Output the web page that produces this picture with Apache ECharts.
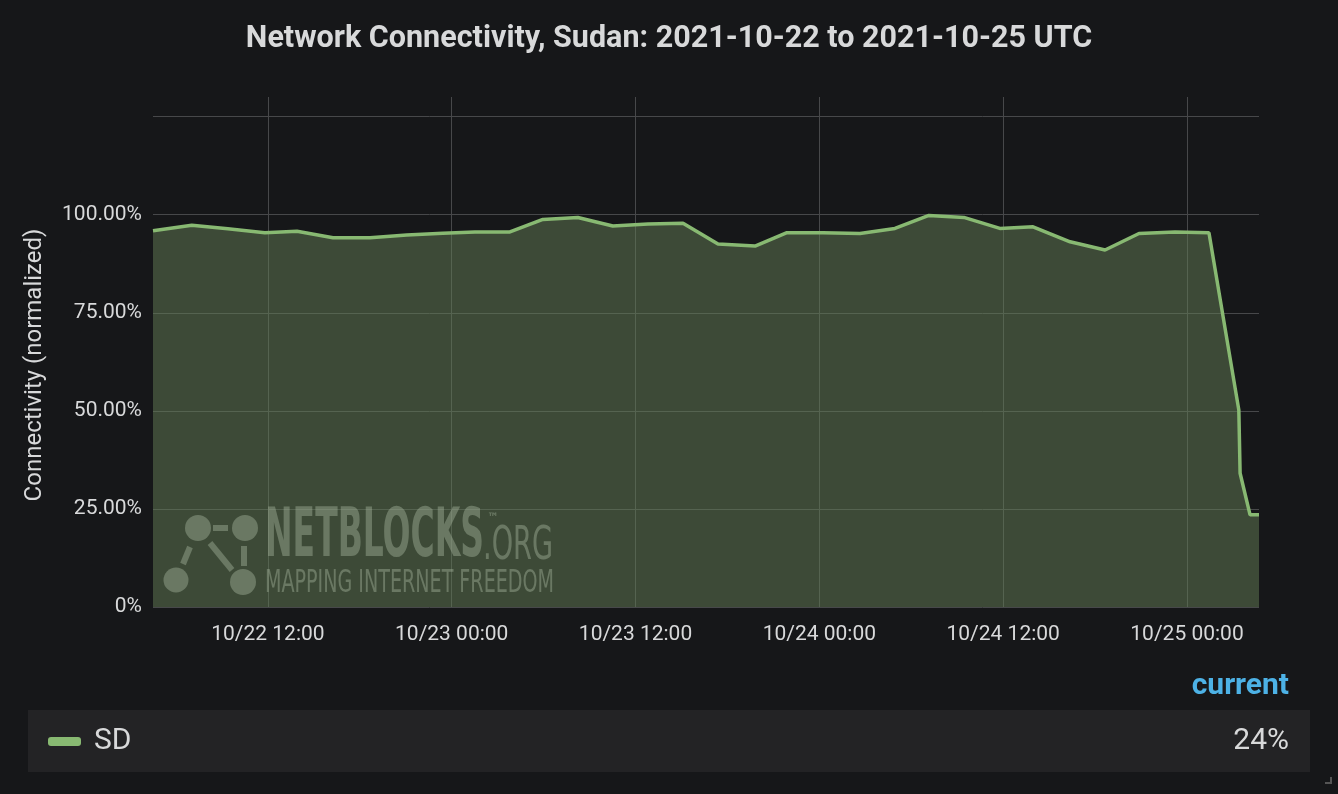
<!DOCTYPE html>
<html>
<head>
<meta charset="utf-8">
<script src="https://cdn.jsdelivr.net/npm/echarts@6/dist/echarts.min.js"></script>
<style>
  html, body { margin: 0; padding: 0; background: #161719; }
  #chart { width: 1338px; height: 794px; }
</style>
</head>
<body>
<div id="chart"></div>
<script>
// ---- Data (UTC) ----
const times = [
  "2021-10-22T04:30:00Z", "2021-10-22T07:02:00Z", "2021-10-22T09:23:00Z", "2021-10-22T11:48:00Z",
  "2021-10-22T13:54:00Z", "2021-10-22T16:15:00Z", "2021-10-22T18:40:00Z", "2021-10-22T21:04:00Z",
  "2021-10-22T23:25:00Z", "2021-10-23T01:31:00Z", "2021-10-23T03:48:00Z", "2021-10-23T05:57:00Z",
  "2021-10-23T08:14:00Z", "2021-10-23T10:31:00Z", "2021-10-23T12:49:00Z", "2021-10-23T15:06:00Z",
  "2021-10-23T17:23:00Z", "2021-10-23T19:48:00Z", "2021-10-23T21:53:00Z", "2021-10-24T00:14:00Z",
  "2021-10-24T02:39:00Z", "2021-10-24T04:56:00Z", "2021-10-24T07:09:00Z", "2021-10-24T09:26:00Z",
  "2021-10-24T11:47:00Z", "2021-10-24T13:57:00Z", "2021-10-24T16:22:00Z", "2021-10-24T18:39:00Z",
  "2021-10-24T20:52:00Z", "2021-10-24T23:13:00Z", "2021-10-25T01:26:00Z", "2021-10-25T03:23:00Z",
  "2021-10-25T03:28:00Z", "2021-10-25T04:07:00Z", "2021-10-25T04:42:00Z"
];
const sdValues = [
  95.9, 97.3, 96.4, 95.4, 95.8, 94.1, 94.1, 94.8, 95.3, 95.6, 95.6, 98.8,
  99.3, 97.1, 97.6, 97.8, 92.5, 92.0, 95.4, 95.4, 95.2, 96.5, 99.8, 99.3,
  96.5, 96.9, 93.1, 91.0, 95.2, 95.6, 95.4, 50.2, 34.1, 23.5, 23.5
];
const seriesName = "SD";
const xTickLabels = ["10/22 12:00", "10/23 00:00", "10/23 12:00", "10/24 00:00", "10/24 12:00", "10/25 00:00"];
const yTickValues = [0, 25, 50, 75, 100, 125];
const yLabelValues = [0, 25, 50, 75, 100];
const titleText = "Network Connectivity, Sudan: 2021-10-22 to 2021-10-25 UTC";
const yAxisTitle = "Connectivity (normalized)";
const legendHeader = "current";

// ---- Build ----
const tsList = times.map(t => Date.parse(t));
const seriesData = tsList.map((t, i) => [t, sdValues[i]]);
const xTickVals = xTickLabels.map(s => {
  const m = s.match(/(\d+)\/(\d+) (\d+):(\d+)/);
  return Date.UTC(2021, +m[1] - 1, +m[2], +m[3], +m[4]);
});
const labelByVal = {};
xTickVals.forEach((v, i) => { labelByVal[v] = xTickLabels[i]; });

const lineColor = '#88b972';
const gridColor = '#47484a';
const textColor = '#d8d9da';
const wm = 'rgba(220,222,215,0.46)';

function fitScale(text, font, target) {
  const c = document.createElement('canvas').getContext('2d');
  c.font = font;
  const w = c.measureText(text).width;
  return w > 0 ? target / w : 1;
}
const wmFamily = '"Liberation Sans Narrow", "DejaVu Sans Condensed", "Liberation Sans", sans-serif';
const s1 = fitScale("NETBLOCKS", 'bold 67px ' + wmFamily, 219);
const s2 = fitScale(".ORG", '46px ' + wmFamily, 70);
const s3 = fitScale("MAPPING INTERNET FREEDOM", '32px ' + wmFamily, 289);

const currentVal = Math.round(sdValues[sdValues.length - 1]) + '%';

const chart = echarts.init(document.getElementById('chart'), null, { renderer: 'canvas' });
chart.setOption({
  backgroundColor: '#161719',
  animation: false,
  title: {
    text: titleText,
    left: 'center',
    top: 24,
    padding: 0,
    textStyle: { color: textColor, fontSize: 30.5, fontWeight: 'bold', fontFamily: 'Roboto' }
  },
  grid: { left: 153, right: 79, top: 97, bottom: 187, containLabel: false },
  xAxis: {
    type: 'value',
    min: tsList[0],
    max: tsList[tsList.length - 1],
    axisLine: { show: false },
    axisTick: { show: false, customValues: xTickVals },
    axisLabel: {
      customValues: xTickVals,
      color: textColor, fontSize: 21, fontFamily: 'Roboto', margin: 17,
      formatter: v => labelByVal[v] || ''
    },
    splitLine: { show: true, lineStyle: { color: gridColor, width: 1 } }
  },
  yAxis: {
    type: 'value',
    min: 0,
    max: 130,
    name: yAxisTitle,
    nameLocation: 'middle',
    nameRotate: 90,
    nameGap: 106,
    nameTextStyle: { color: textColor, fontSize: 24, fontFamily: 'Roboto', padding: [0, 26, 0, 0] },
    axisLine: { show: false },
    axisTick: { show: false, customValues: yTickValues },
    axisLabel: {
      customValues: yLabelValues,
      color: textColor, fontSize: 21, fontFamily: 'Roboto', margin: 11,
      formatter: v => v === 0 ? '0%' : v.toFixed(2) + '%'
    },
    splitLine: { show: true, lineStyle: { color: gridColor, width: 1 } }
  },
  series: [{
    name: seriesName,
    type: 'line',
    data: seriesData,
    showSymbol: false,
    lineStyle: { color: lineColor, width: 3.5 },
    itemStyle: { color: lineColor },
    areaStyle: { color: 'rgba(100,125,85,0.5)', opacity: 1 },
    z: 3
  }],
  graphic: [
    // watermark logo
    { type: 'line', z: 1, shape: { x1: 213, y1: 528, x2: 228, y2: 528 }, style: { stroke: wm, lineWidth: 6 } },
    { type: 'line', z: 1, shape: { x1: 190, y1: 547, x2: 183, y2: 564 }, style: { stroke: wm, lineWidth: 6 } },
    { type: 'line', z: 1, shape: { x1: 210, y1: 543, x2: 232, y2: 570 }, style: { stroke: wm, lineWidth: 6 } },
    { type: 'line', z: 1, shape: { x1: 244, y1: 546, x2: 244, y2: 566 }, style: { stroke: wm, lineWidth: 6 } },
    { type: 'circle', z: 1, shape: { cx: 198, cy: 528, r: 13 }, style: { fill: wm } },
    { type: 'circle', z: 1, shape: { cx: 245, cy: 528, r: 13 }, style: { fill: wm } },
    { type: 'circle', z: 1, shape: { cx: 176, cy: 580, r: 12.5 }, style: { fill: wm } },
    { type: 'circle', z: 1, shape: { cx: 243, cy: 582, r: 13 }, style: { fill: wm } },
    { type: 'text', z: 1, x: 265, y: 539, scaleX: s1, style: { text: 'NETBLOCKS', fill: wm, font: 'bold 67px ' + wmFamily, textVerticalAlign: 'middle' } },
    { type: 'text', z: 1, x: 487, y: 519, style: { text: '\u2122', fill: wm, font: 'bold 13px ' + wmFamily, textVerticalAlign: 'middle' } },
    { type: 'text', z: 1, x: 483, y: 547, scaleX: s2, style: { text: '.ORG', fill: wm, font: '46px ' + wmFamily, textVerticalAlign: 'middle' } },
    { type: 'text', z: 1, x: 265, y: 584, scaleX: s3, style: { text: 'MAPPING INTERNET FREEDOM', fill: wm, font: '32px ' + wmFamily, textVerticalAlign: 'middle' } },
    // legend table
    { type: 'text', right: 49, top: 671, style: { text: legendHeader, fill: '#4db2e6', font: 'bold 30px Roboto' } },
    { type: 'rect', shape: { x: 28, y: 710, width: 1282, height: 62 }, style: { fill: '#232325' } },
    { type: 'rect', shape: { x: 48, y: 737, width: 33, height: 9, r: 3 }, style: { fill: lineColor } },
    { type: 'text', x: 94, y: 741, style: { text: seriesName, fill: textColor, font: '30px Roboto', textVerticalAlign: 'middle' } },
    { type: 'text', x: 1289, y: 741, style: { text: currentVal, fill: textColor, font: '30px Roboto', textAlign: 'right', textVerticalAlign: 'middle' } },
    // resize corner
    { type: 'polyline', shape: { points: [[1331, 777], [1331, 783], [1325, 783]] }, style: { stroke: '#555', lineWidth: 2, fill: null } }
  ]
});
</script>
</body>
</html>
